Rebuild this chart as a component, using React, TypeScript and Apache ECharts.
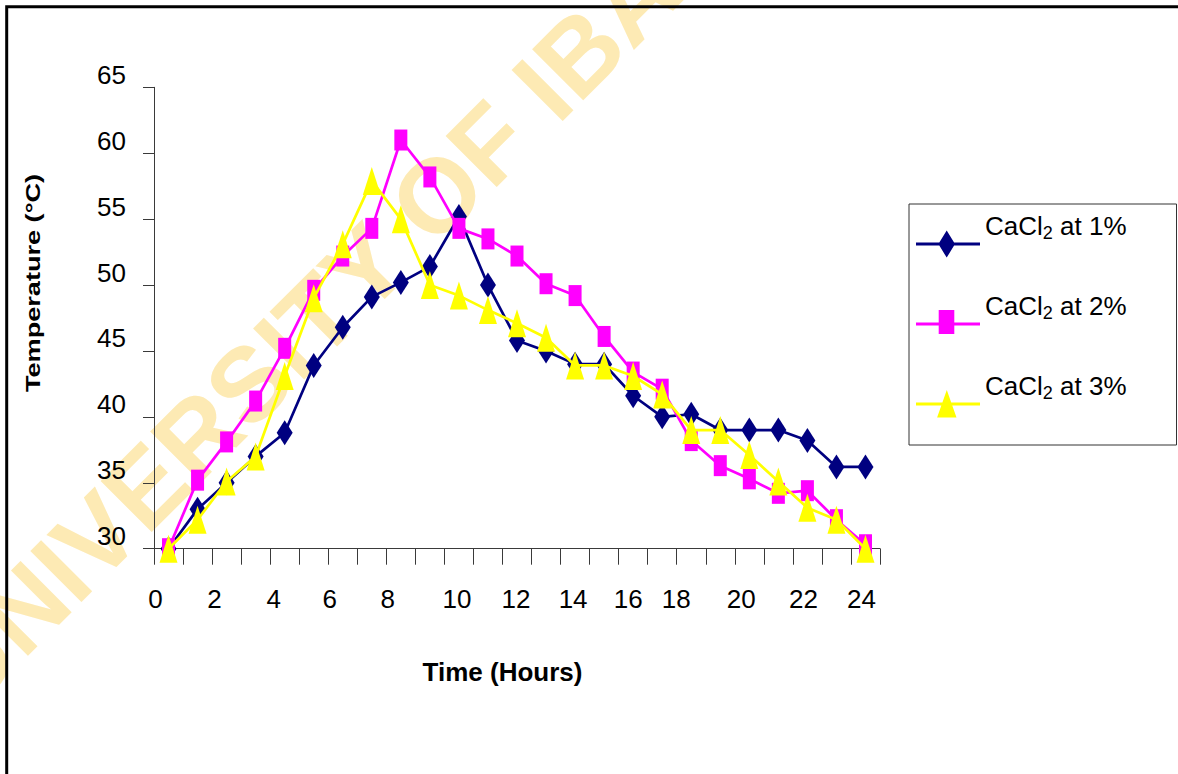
import React, { useEffect, useRef } from 'react';
import * as echarts from 'echarts';

// ---------- data ----------
const hours = ['0', '1', '2', '3', '4', '5', '6', '7', '8', '9', '10', '11', '12', '13', '14', '15', '16', '17', '18', '19', '20', '21', '22', '23', '24'];
const seriesNames = ['CaCl2 at 1%', 'CaCl2 at 2%', 'CaCl2 at 3%'];
const cacl1 = [30, 33, 35, 37, 38.8, 43.9, 46.8, 49.1, 50.2, 51.4, 55.2, 50, 45.8, 45, 44, 44, 41.6, 40, 40.2, 39, 39, 39, 38.2, 36.2, 36.2];
const cacl2 = [30, 35.2, 38.1, 41.2, 45.2, 49.6, 52.2, 54.3, 61, 58.2, 54.3, 53.5, 52.2, 50.1, 49.2, 46.1, 43.4, 42.1, 38.2, 36.3, 35.3, 34.2, 34.4, 32.2, 30.3];
const cacl3 = [30, 32.2, 35.1, 37, 43.1, 49, 53.1, 57.9, 55, 50, 49.2, 48.1, 47.1, 46, 43.9, 43.9, 43.1, 41.7, 39, 39, 37.1, 35.1, 33.1, 32.2, 30];
const yMin = 30;
const yMax = 65;
const yStep = 5;
const xTitle = 'Time (Hours)';
const yTitle = 'Temperature (°C)';
const watermarkText = 'UNIVERSITY OF IBADAN';

// ---------- layout / style ----------
const FONT = '"Liberation Sans", Arial, Helvetica, sans-serif';
// leftward nudge (px) of each x tick label, as placed in the original
const xLabelNudge = [13, 0, 12, 0, 11, 0, 13, 0, 13, 0, 2, 0, 1, 0, 2, 0, 5, 0, 15, 0, 8, 0, 4, 0, 4];
const colors = ['#000080', '#FF00FF', '#FFFF00'];
const symbols = ['diamond', 'rect', 'triangle'];
const symbolSizes = [[16, 25], [13, 21], [18, 28]];
const legendIcons = [
  'path://M0,0M64,28M0,12.6L64,12.6L64,15.4L0,15.4ZM30.7,0.4L39,14L30.7,27.6L22.4,14Z',
  'path://M0,0M64,28M0,12.6L64,12.6L64,15.4L0,15.4ZM22.7,0L38.3,0L38.3,24L22.7,24Z',
  'path://M0,0M64,28M0,12.6L64,12.6L64,15.4L0,15.4ZM30.8,0L40.5,27.5L21.1,27.5Z',
];
const seriesData = [cacl1, cacl2, cacl3];

export default function App() {
  const ref = useRef<HTMLDivElement>(null);

  useEffect(() => {
    if (!ref.current) return;
    const chart = echarts.init(ref.current, undefined, { renderer: 'svg' });

    const rich: Record<string, any> = {};
    hours.forEach((_, i) => {
      rich['n' + i] = {
        fontSize: 26,
        fontFamily: FONT,
        color: '#000',
        padding: [0, 2 * xLabelNudge[i], 0, 0],
      };
    });

    const axisColor = '#3a3a3a';

    const option: any = {
      animation: false,
      backgroundColor: '#ffffff',
      textStyle: { fontFamily: FONT },
      grid: { left: 154, top: 87.3, right: 298, bottom: 225.3, containLabel: false },
      xAxis: {
        type: 'category',
        data: hours,
        boundaryGap: true,
        axisLine: { show: true, lineStyle: { color: axisColor, width: 1 } },
        axisTick: { show: true, interval: 0, length: 16, lineStyle: { color: axisColor, width: 1 } },
        axisLabel: {
          interval: 1,
          margin: 37,
          color: '#000',
          fontSize: 26,
          fontFamily: FONT,
          formatter: (v: string, i: number) => `{n${i}|${v}}`,
          rich,
        },
        splitLine: { show: false },
      },
      yAxis: {
        type: 'value',
        min: yMin,
        max: yMax,
        interval: yStep,
        axisLine: { show: true, lineStyle: { color: axisColor, width: 1 } },
        axisTick: { show: true, length: 11, lineStyle: { color: axisColor, width: 1 } },
        axisLabel: {
          margin: 28,
          color: '#000',
          fontSize: 26,
          fontFamily: FONT,
          formatter: (v: number) => `{t|${v}}`,
          rich: {
            t: { fontSize: 26, fontFamily: FONT, color: '#000', padding: [0, 0, 25, 0] },
          },
        },
        splitLine: { show: false },
      },
      legend: {
        orient: 'vertical',
        left: 909,
        top: 204,
        padding: [9, 50, 10, 7],
        itemWidth: 64,
        itemHeight: 28,
        itemGap: 18,
        borderColor: '#333',
        borderWidth: 1,
        backgroundColor: '#ffffff',
        selectedMode: false,
        itemStyle: { borderWidth: 0 },
        textStyle: {
          color: '#000',
          fontSize: 26,
          fontFamily: FONT,
          lineHeight: 26,
          padding: [0, 0, 36, 0],
          rich: {
            sub: { fontSize: 18, fontFamily: FONT, color: '#000', padding: [14, 0, 0, 0] },
          },
        },
        formatter: (name: string) => name.replace('CaCl2', 'CaCl{sub|2}'),
        data: seriesNames.map((n, i) => ({ name: n, icon: legendIcons[i] })),
      },
      series: seriesNames.map((name, i) => ({
        type: 'line',
        name,
        data: seriesData[i],
        symbol: symbols[i],
        symbolSize: symbolSizes[i],
        showAllSymbol: true,
        clip: false,
        itemStyle: { color: colors[i], borderWidth: 0 },
        lineStyle: { color: colors[i], width: 2.7 },
        emphasis: { disabled: true },
        z: 2 + i,
      })),
      graphic: [
        {
          type: 'text',
          x: 382,
          y: 250,
          rotation: Math.PI / 4,
          z: -1,
          silent: true,
          style: {
            text: watermarkText,
            fontSize: 105,
            fontWeight: 'bold',
            fontFamily: FONT,
            fill: '#FDEAB4',
            align: 'center',
            verticalAlign: 'middle',
          },
        },
        {
          type: 'rect',
          silent: true,
          shape: { x: 6.7, y: 6.7, width: 2000, height: 2000 },
          style: { fill: 'none', stroke: '#000', lineWidth: 3 },
        },
        {
          type: 'text',
          x: 502.5,
          y: 672,
          silent: true,
          style: {
            text: xTitle,
            fontSize: 26,
            fontWeight: 'bold',
            fontFamily: FONT,
            fill: '#000',
            align: 'center',
            verticalAlign: 'middle',
          },
        },
        {
          type: 'text',
          x: 33,
          y: 283,
          rotation: Math.PI / 2,
          scaleX: 1.39,
          silent: true,
          style: {
            text: yTitle,
            fontSize: 19.5,
            fontWeight: 'bold',
            fontFamily: FONT,
            fill: '#000',
            align: 'center',
            verticalAlign: 'middle',
          },
        },
      ],
    };

    chart.setOption(option);
    return () => {
      chart.dispose();
    };
  }, []);

  return (
    <div
      ref={ref}
      style={{ position: 'absolute', left: 0, top: 0, width: 1178, height: 774, background: '#fff' }}
    />
  );
}
